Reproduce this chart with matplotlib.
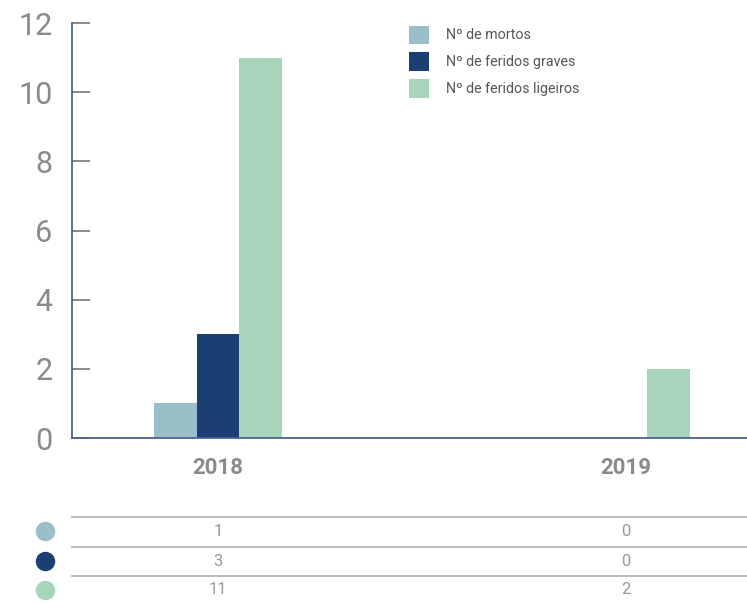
import matplotlib.pyplot as plt
import matplotlib.transforms as mtransforms
import numpy as np

plt.rcParams['font.family'] = ['Roboto', 'DejaVu Sans']

years = ['2018', '2019']
series = ['Nº de mortos', 'Nº de feridos graves', 'Nº de feridos ligeiros']
mortos = [1, 0]
graves = [3, 0]
ligeiros = [11, 2]
colors = ['#9bbfc9', '#1c3f73', '#a8d5ba']

values = [mortos, graves, ligeiros]
W, H = 747, 603
fig = plt.figure(figsize=(W / 100, H / 100), dpi=100)
ax = fig.add_axes([72 / W, (H - 438) / H, 675 / W, (438 - 23) / H])

x = np.arange(len(years))
bw = 0.105
for i, (vals, name, c) in enumerate(zip(values, series, colors)):
    ax.bar(x + (i - 1) * bw, vals, width=bw, color=c, label=name)

ax.set_xlim(-0.358, 1.297)
ax.set_ylim(0, 12)
ax.set_yticks(range(0, 13, 2))
ax.set_xticks(x)
ax.set_xticklabels(years, fontsize=16, fontweight='bold', color='#8a8a8a')
ax.tick_params(axis='x', length=0, pad=14)
ax.tick_params(axis='y', direction='in', length=13, width=1.2, color='#777777',
               labelsize=22, labelcolor='#8a8a8a', pad=14)
for s in ['top', 'right']:
    ax.spines[s].set_visible(False)
for s in ['left', 'bottom']:
    ax.spines[s].set_color('#4a6490')
    ax.spines[s].set_linewidth(1.3)

leg = ax.legend(loc='upper left', bbox_to_anchor=(0.48, 1.025), frameon=False,
                fontsize=10.3, handlelength=1.4, handleheight=1.6,
                labelspacing=0.6, handletextpad=1.2)
for t in leg.get_texts():
    t.set_color('#555555')

# table below the chart
trans = mtransforms.blended_transform_factory(ax.transData, fig.transFigure)
line_y = [517, 547, 576]
row_y = [531, 561, 590]
for ly in line_y:
    fig.add_artist(plt.Line2D([72 / W, 1.0], [1 - ly / H, 1 - ly / H],
                              color='#b5b5b5', lw=1.3, transform=fig.transFigure))
for vals, c, ry in zip(values, colors, row_y):
    fig.add_artist(plt.Line2D([45 / W], [1 - ry / H], marker='o', markersize=13,
                              color=c, transform=fig.transFigure))
    for xi, v in zip(x, vals):
        fig.text(xi, 1 - ry / H, str(v), transform=trans, ha='center', va='center',
                 fontsize=12, color='#999999')

fig.savefig('out.png', dpi=100)
